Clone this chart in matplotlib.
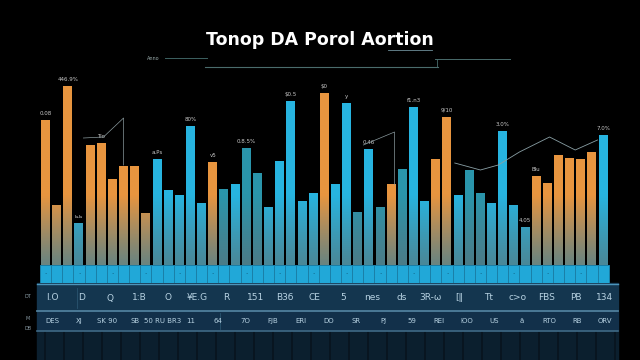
import numpy as np
import matplotlib.pyplot as plt
from matplotlib.colors import to_rgb
from matplotlib.patches import Rectangle

title = "Tonop DA Porol Aortion"

values = [145, 60, 179, 42, 120, 122, 86, 99, 99, 52,
          106, 75, 70, 139, 62, 103, 76, 81, 117, 92,
          58, 104, 164, 64, 72, 172, 81, 162, 53, 116,
          58, 81, 96, 158, 64, 106, 148, 70, 95, 72,
          62, 134, 60, 38, 89, 82, 110, 107, 106, 113, 130]
kinds = "OOOCOOOOOO" "CCCCCOTCTT" "CCCCCOCCTC" "TOTCCOOCTT" "CCCCOOOOOOC"

bar_labels = ["0.08", "", "446.9%", "ь.ь", "", "Tio", "", "", "", "",
              "a.Ps", "", "", "80%", "", "v5", "", "", "0.8.5%", "",
              "", "", "$0.5", "", "", "$0", "", "y", "", "0.46",
              "", "", "", "f1.n3", "", "", "9/10", "", "", "",
              "", "3.0%", "", "4.05", "Blu", "", "", "", "", "", "7.0%"]

trend_x = [36.7, 39.0, 40.6, 42.5, 45.2, 47.5, 49.5]
trend_y = [102, 95, 100, 113, 128, 115, 125]
call_left_x = [3.4, 5.2, 7.0, 7.0]
call_left_y = [127, 128, 147, 100]
call_mid_x = [28.5, 31.3, 31.3]
call_mid_y = [120, 133, 80]

row1 = ["I.O", "D", "Q", "1:B", "O", "¥E.G", "R", "151", "B3б", "CE", "5",
        "nes", "ds", "3R-ω", "[‖", "Tt", "c>o", "FBS", "PB", "134"]
row2 = ["DES", "XJ", "SK 90", "SB", "50 RU BR3", "11", "64", "7O", "FJB",
        "ERI", "DO", "SR", "PJ", "59", "REI", "IOO", "US", "ä", "RTO", "RB", "ORV"]

colors = {"O": ("#e8953f", "#6a8480"), "C": ("#27b4e0", "#4a8898"), "T": ("#2a95ab", "#4b7c88")}

fig = plt.figure(figsize=(6.4, 3.6), dpi=100, facecolor="black")

# background / decoration layer in pixel coordinates
bg = fig.add_axes([0, 0, 1, 1], zorder=0)
bg.set_xlim(0, 640)
bg.set_ylim(360, 0)
bg.axis("off")
bg.set_facecolor("black")

bg.text(320, 40, title, color="white", fontsize=12.5, fontweight="bold",
        ha="center", va="center", family="DejaVu Sans")
bg.plot([388, 432], [50, 50], color="#6f8f9a", lw=0.6)
bg.plot([165, 207], [58, 58], color="#3d6262", lw=0.7)
bg.text(147, 58, "Anno", color="#9aa", fontsize=3.5, ha="left", va="center")
bg.plot([205, 438], [67, 67], color="#4a6c6c", lw=0.8)
bg.plot([437, 437], [59, 67], color="#4a6c6c", lw=0.6)
bg.plot([435, 510], [59, 59], color="#4a6c6c", lw=0.7)

# table area
bg.add_patch(Rectangle((37, 283), 581, 27, color="#14364f"))
bg.add_patch(Rectangle((37, 311), 581, 20, color="#12304a"))
bg.add_patch(Rectangle((37, 331), 581, 29, color="#0b1f2e"))
for xs in np.arange(45, 618, 19):
    bg.plot([xs, xs], [332, 360], color="#08141e", lw=1.2)
bg.plot([37, 618], [284, 284], color="#4c95bb", lw=1.0)
bg.plot([37, 618], [310.5, 310.5], color="#4f7f9c", lw=1.3)
bg.plot([37, 618], [331, 331], color="#3f6a86", lw=1.2)
bg.plot([77, 77], [288, 308], color="#2a5470", lw=0.6)
bg.plot([220, 220], [313, 329], color="#2a5470", lw=0.6)

for s, xx in zip(row1, np.linspace(52, 605, len(row1))):
    bg.text(xx, 298, s, color="#b7d2e2", fontsize=6.5, ha="center", va="center")
for s, xx in zip(row2, np.linspace(52, 605, len(row2))):
    bg.text(xx, 321, s, color="#b7d2e2", fontsize=5, ha="center", va="center")
for s, yy in zip(["DT", "M", "DB"], [297, 318, 329]):
    bg.text(28, yy, s, color="#8a9ca6", fontsize=3.5, ha="center", va="center")

# bars
ax = fig.add_axes([38 / 640, (360 - 283) / 360, (612 - 38) / 640, (283 - 70) / 360], zorder=1)
ax.set_facecolor("none")
x = np.arange(len(values))
width = 0.8
for xi, h, k in zip(x, values, kinds):
    top, fade = colors[k]
    c = np.array(to_rgb(top))
    g = np.array(to_rgb(fade))
    ys = np.linspace(0, h, 80)
    t = np.clip(ys / 70, 0, 1) ** 1.1
    rgb = g + (c - g) * t[:, None]
    img = rgb[::-1][:, None, :]
    patch = ax.bar(xi, h, width=width, color="none", zorder=2)[0]
    im = ax.imshow(img, extent=(xi - width / 2, xi + width / 2, 0, h), aspect="auto", zorder=2)
    im.set_clip_path(patch)

# cyan strip under the bars
ax.bar(x, 18, bottom=-18, width=1.0, color="#21a8d8", edgecolor="#1a80a8", lw=0.7, zorder=3)
for xi in x[::3]:
    ax.text(xi, -9, "·", color="#0e4e6a", fontsize=5, ha="center", va="center", zorder=4)

for xi, h, s in zip(x, values, bar_labels):
    if s:
        ax.text(xi, h + 4, s, color="#c9c9c9", fontsize=4, ha="center", va="bottom", zorder=4)

ax.plot(trend_x, trend_y, color="#8aa0a6", lw=0.6, zorder=4)
ax.plot(call_left_x, call_left_y, color="#8a9a9e", lw=0.5, zorder=4)
ax.plot(call_mid_x, call_mid_y, color="#8a9a9e", lw=0.5, zorder=4)

ax.set_xlim(-0.67, 50.8)
ax.set_ylim(-18, 195)
ax.axis("off")

fig.savefig("out.png", dpi=100, facecolor="black")
